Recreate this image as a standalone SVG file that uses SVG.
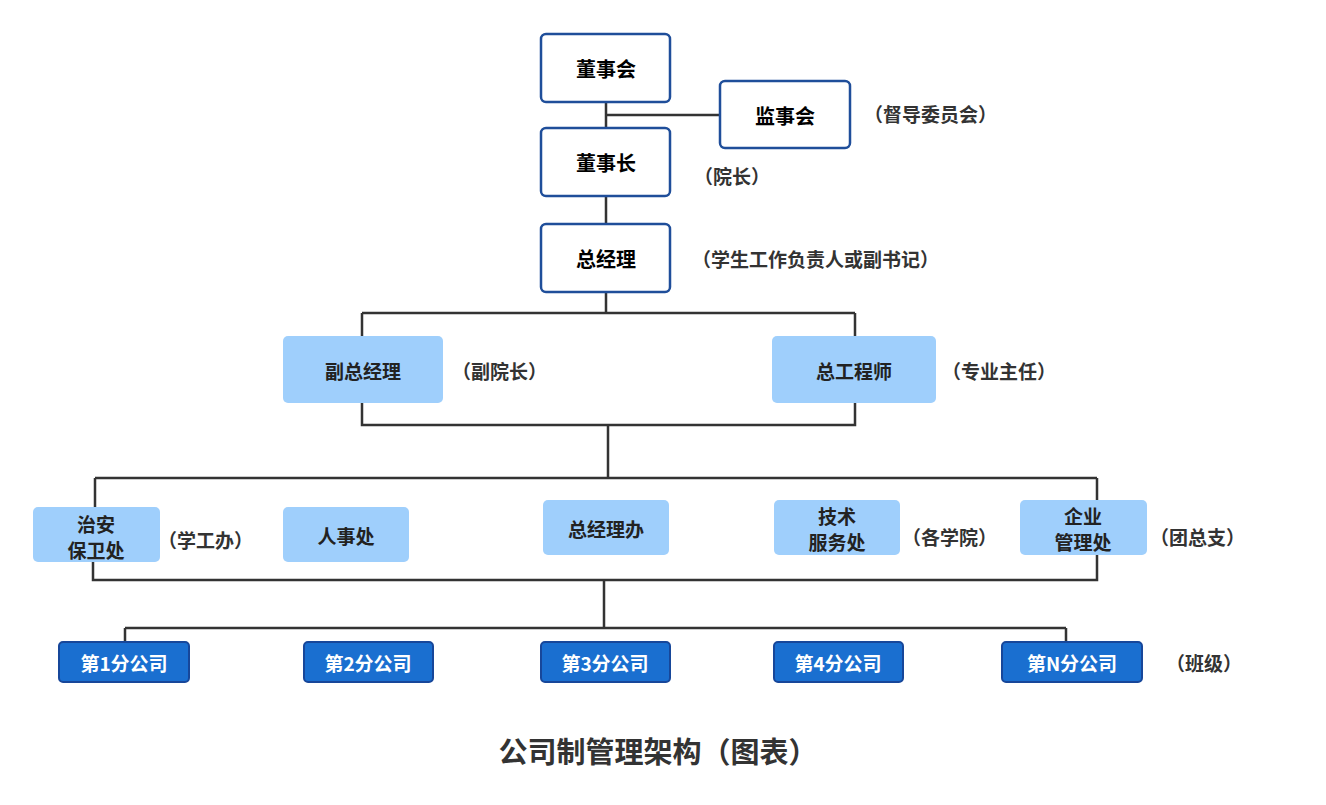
<svg xmlns="http://www.w3.org/2000/svg" width="1326" height="805" viewBox="0 0 1326 805">
<style>
text{font-family:"Noto Sans CJK SC","Liberation Sans",sans-serif;font-weight:bold;text-anchor:middle;dominant-baseline:central}
.w{fill:#fff;stroke:#1f4e9a;stroke-width:2.5}
.l{fill:#9fcffc}
.d{fill:#1a6fd0;stroke:#17479a;stroke-width:2}
.t{font-size:20px;fill:#000}
.n{font-size:19px;fill:#222}
.a{font-size:19px;fill:#333;text-anchor:start}
.c{fill:none;stroke:#333;stroke-width:2.5}
</style>
<rect width="1326" height="805" fill="#fff"/>
<g id="connectors">
<path class="c" d="M606 102V224M606 115H720M606 292V313M362 313H855M362 313V336M855 313V336M362 403V425H855V403M608 425V478M95 478H1097M95 478V507M1097 478V500M93 562V580H1097V555M604 580V628M125 628H1066M125 628V642M1066 628V642"/>
</g>
<g id="n1"><rect class="w" x="541" y="34" width="129" height="68" rx="5"/><text class="t" x="606" y="68">董事会</text></g>
<g id="n2"><rect class="w" x="720" y="81" width="130" height="67" rx="5"/><text class="t" x="785" y="115">监事会</text></g>
<text class="a" x="864" y="113">（督导委员会）</text>
<g id="n3"><rect class="w" x="541" y="128" width="129" height="68" rx="5"/><text class="t" x="606" y="162">董事长</text></g>
<text class="a" x="694" y="175">（院长）</text>
<g id="n4"><rect class="w" x="541" y="224" width="129" height="68" rx="5"/><text class="t" x="606" y="258">总经理</text></g>
<text class="a" x="692" y="258">（学生工作负责人或副书记）</text>
<g id="n5"><rect class="l" x="283" y="336" width="160" height="67" rx="5"/><text class="n" x="363" y="370">副总经理</text></g>
<text class="a" x="452" y="370">（副院长）</text>
<g id="n6"><rect class="l" x="772" y="336" width="164" height="67" rx="5"/><text class="n" x="854" y="370">总工程师</text></g>
<text class="a" x="942" y="370">（专业主任）</text>
<g id="n7"><rect class="l" x="33" y="507" width="127" height="55" rx="5"/><text class="n" x="96" y="523">治安</text><text class="n" x="96" y="549">保卫处</text></g>
<text class="a" x="158" y="539">（学工办）</text>
<g id="n8"><rect class="l" x="283" y="507" width="126" height="55" rx="5"/><text class="n" x="346" y="535">人事处</text></g>
<g id="n9"><rect class="l" x="543" y="500" width="126" height="55" rx="5"/><text class="n" x="606" y="528">总经理办</text></g>
<g id="n10"><rect class="l" x="774" y="500" width="126" height="55" rx="5"/><text class="n" x="837" y="515">技术</text><text class="n" x="837" y="541">服务处</text></g>
<text class="a" x="902" y="536">（各学院）</text>
<g id="n11"><rect class="l" x="1020" y="500" width="127" height="55" rx="5"/><text class="n" x="1083" y="515">企业</text><text class="n" x="1083" y="541">管理处</text></g>
<text class="a" x="1150" y="536">（团总支）</text>
<g id="b1"><rect class="d" x="59" y="642" width="130" height="40" rx="4"/><text class="n" fill="#fff" style="fill:#fff" x="124" y="662">第1分公司</text></g>
<g id="b2"><rect class="d" x="304" y="642" width="129" height="40" rx="4"/><text class="n" style="fill:#fff" x="368" y="662">第2分公司</text></g>
<g id="b3"><rect class="d" x="541" y="642" width="129" height="40" rx="4"/><text class="n" style="fill:#fff" x="605" y="662">第3分公司</text></g>
<g id="b4"><rect class="d" x="774" y="642" width="129" height="40" rx="4"/><text class="n" style="fill:#fff" x="838" y="662">第4分公司</text></g>
<g id="b5"><rect class="d" x="1002" y="642" width="140" height="40" rx="4"/><text class="n" style="fill:#fff" x="1072" y="662">第N分公司</text></g>
<text class="a" x="1166" y="662">（班级）</text>
<text x="658" y="750" style="font-size:29px;fill:#333">公司制管理架构（图表）</text>
</svg>
